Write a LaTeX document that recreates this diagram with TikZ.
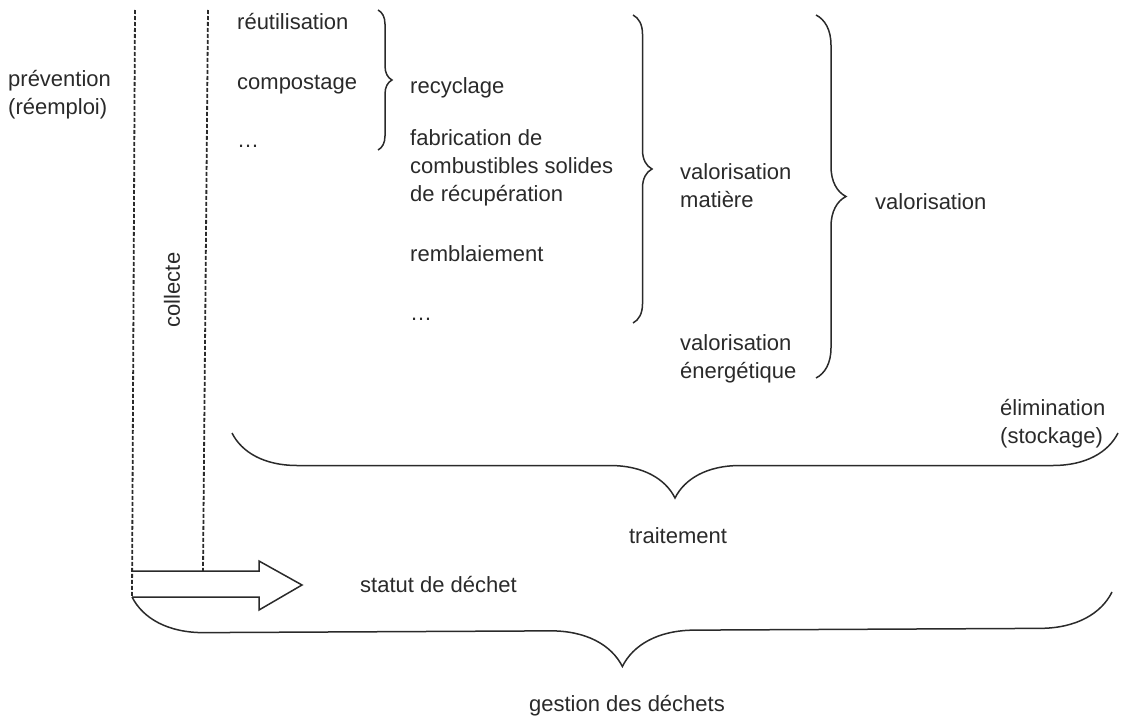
\documentclass[tikz,border=0pt]{standalone}
\usepackage{fontspec}
\setmainfont{Liberation Sans}
\usetikzlibrary{decorations.pathreplacing}
\definecolor{ink}{HTML}{2A2A2A}
\begin{document}
\begin{tikzpicture}[x=1pt,y=-1pt,
  lbl/.style={inner sep=0pt,text=ink,font=\fontsize{22}{28}\selectfont,align=left,anchor=base west},
  clbl/.style={lbl,anchor=base,align=center},
  dashline/.style={draw=ink,line width=1.8pt,dash pattern=on 4pt off 2pt},
  bracestyle/.style={draw=ink,line width=1.5pt,decorate,decoration={brace,amplitude=#1}},
  arrowshape/.style={draw=ink,line width=1.5pt,line join=miter}
]
\useasboundingbox (0,0) rectangle (1125,717);

% dashed lines
\coordinate (d1top) at (135,10);
\coordinate (d1bot) at (132,597);
\coordinate (d2top) at (208,10);
\coordinate (d2bot) at (203,571);
\draw[dashline] (d1top) -- (d1bot);
\draw[dashline] (d2top) -- (d2bot);

% hollow arrow
\coordinate (a0) at (132,571);
\coordinate (a1) at (259,571);
\coordinate (a2) at (259,561);
\coordinate (a3) at (302,585);
\coordinate (a4) at (259,610);
\coordinate (a5) at (259,597);
\coordinate (a6) at (132,597);
\draw[arrowshape] (a0) -- (a1) -- (a2) -- (a3) -- (a4) -- (a5) -- (a6);

% texts
\node[lbl] (prev) at (8,114) {prévention\\(réemploi)};
\node[inner sep=0pt,text=ink,font=\fontsize{22}{28}\selectfont,rotate=90] (coll) at (172,290) {collecte};
\node[lbl] (reut) at (237,30) {réutilisation};
\node[lbl] (comp) at (237,89) {compostage};
\node[lbl] (dots1) at (237,147) {\dots};
\node[lbl] (recy) at (410,93) {recyclage};
\node[lbl] (fab) at (410,201) {fabrication de\\combustibles solides\\de récupération};
\node[lbl] (remb) at (410,261) {remblaiement};
\node[lbl] (dots2) at (410,320) {\dots};
\node[lbl] (valm) at (680,207) {valorisation\\matière};
\node[lbl] (vale) at (680,378) {valorisation\\énergétique};
\node[lbl] (valo) at (875,209) {valorisation};
\node[lbl] (elim) at (1000,443) {élimination\\(stockage)};
\node[clbl] (trait) at (678,543) {traitement};
\node[lbl] (statut) at (360,592) {statut de déchet};
\node[clbl] (gest) at (627,711) {gestion des déchets};

% braces
\coordinate (b1s) at (378,10);
\coordinate (b1e) at (378,150);
\draw[bracestyle=14pt] (b1s) -- (b1e);
\coordinate (b2s) at (633,15);
\coordinate (b2e) at (633,323);
\draw[bracestyle=19pt] (b2s) -- (b2e);
\coordinate (b3s) at (816,15);
\coordinate (b3e) at (816,378);
\draw[bracestyle=30pt] (b3s) -- (b3e);
\coordinate (b4s) at (1118,433);
\coordinate (b4e) at (232,433);
\draw[bracestyle=65pt] (b4s) -- (b4e);
\coordinate (b5s) at (1112,592);
\coordinate (b5e) at (132,597);
\draw[bracestyle=72pt] (b5s) -- (b5e);
\end{tikzpicture}
\end{document}
